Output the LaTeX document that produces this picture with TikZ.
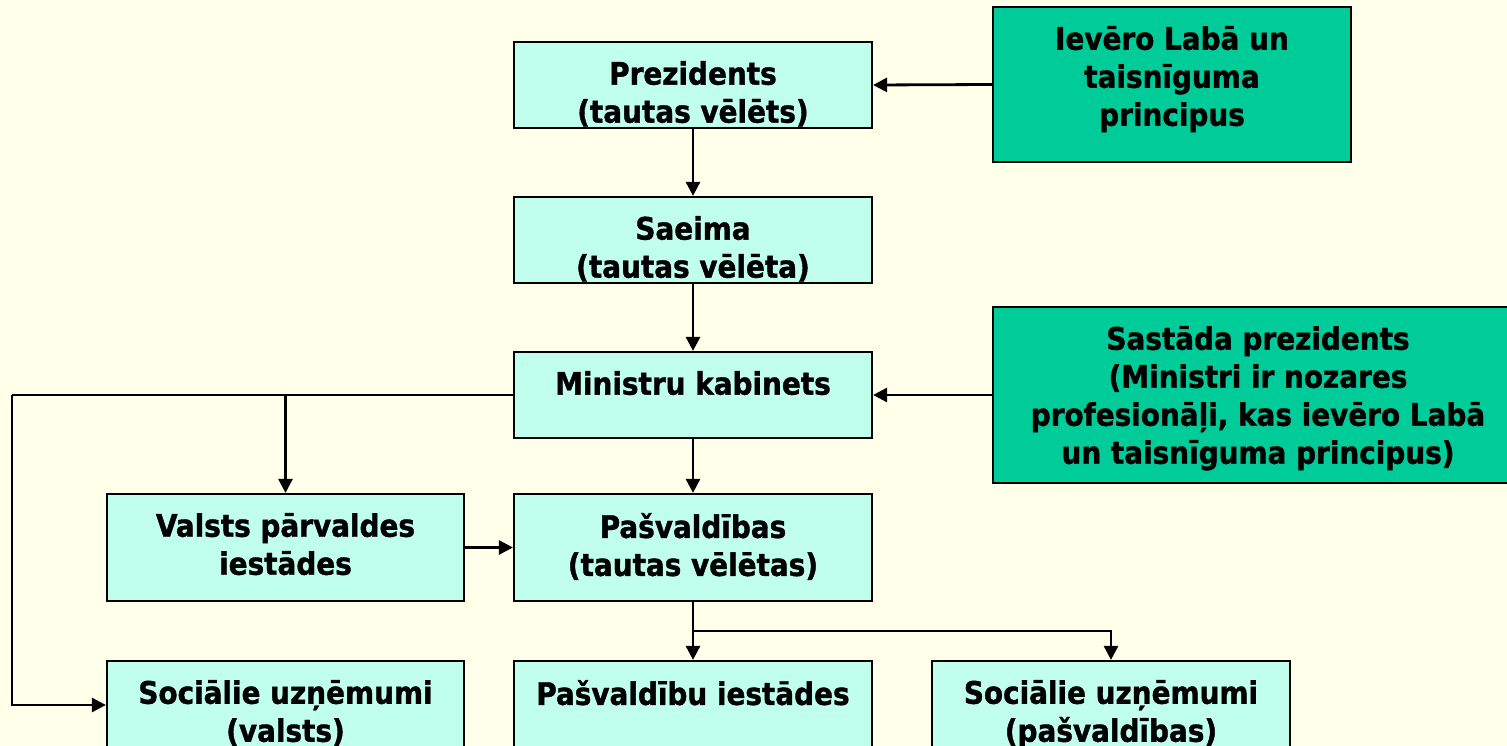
\documentclass[tikz,border=0pt]{standalone}
\usepackage{fontspec}
\newfontfamily\lblfont[FakeBold=1.2]{DejaVu Sans Condensed Bold}
\usetikzlibrary{arrows.meta}
\definecolor{bgc}{HTML}{FFFFEA}
\definecolor{cyanbox}{HTML}{C0FFEC}
\definecolor{greenbox}{HTML}{00CC99}
\tikzset{
 cbox/.style={draw=black, line width=2.2pt, fill=cyanbox, inner sep=0pt, minimum width=358pt},
 gbox/.style={draw=black, line width=2.2pt, fill=greenbox, inner sep=0pt},
 lbl/.style={anchor=north, align=center, inner sep=0pt, text=black, font=\lblfont\fontsize{31}{38}\selectfont},
 conn/.style={line width=2.8pt, -{Triangle[length=14pt,width=14pt]}},
 plainline/.style={line width=2.8pt}
}
\begin{document}
\begin{tikzpicture}[x=1pt,y=-1pt]
\useasboundingbox (0,0) rectangle (1507,746);
\fill[bgc] (0,0) rectangle (1507,746);
% boxes
\node[cbox, minimum height=86pt] (prez) at (693,85) {};
\node[cbox, minimum height=86pt] (saeima) at (693,240) {};
\node[cbox, minimum height=86pt] (mk) at (693,395) {};
\node[cbox, minimum width=357pt, minimum height=107pt] (valsts) at (285.5,547.5) {};
\node[cbox, minimum height=107pt] (pasv) at (693,547.5) {};
\node[cbox, minimum width=357pt, minimum height=88pt] (sv) at (285.5,705) {};
\node[cbox, minimum height=88pt] (pi) at (693,705) {};
\node[cbox, minimum height=88pt] (sp) at (1111,705) {};
\node[gbox, minimum width=358pt, minimum height=155pt] (g1) at (1172,84.5) {};
\node[gbox, minimum width=530pt, minimum height=176pt] (g2) at (1258,395) {};
% texts
\node[lbl] (prezT) at ([yshift=-20pt]prez.north) {Prezidents\\(tautas vēlēts)};
\node[lbl] (saeimaT) at ([yshift=-20pt]saeima.north) {Saeima\\(tautas vēlēta)};
\node[lbl] (mkT) at ([yshift=-20pt]mk.north) {Ministru kabinets};
\node[lbl] (valstsT) at ([yshift=-20pt]valsts.north) {Valsts pārvaldes\\iestādes};
\node[lbl] (pasvT) at ([yshift=-20pt]pasv.north) {Pašvaldības\\(tautas vēlētas)};
\node[lbl] (svT) at ([yshift=-20pt]sv.north) {Sociālie uzņēmumi\\(valsts)};
\node[lbl] (piT) at ([yshift=-20pt]pi.north) {Pašvaldību iestādes};
\node[lbl] (spT) at ([yshift=-20pt]sp.north) {Sociālie uzņēmumi\\(pašvaldības)};
\node[lbl] (g1T) at ([yshift=-20pt]g1.north) {Ievēro Labā un\\taisnīguma\\principus};
\node[lbl] (g2T) at ([yshift=-20pt]g2.north) {Sastāda prezidents\\(Ministri ir nozares\\profesionāļi, kas ievēro Labā\\un taisnīguma principus)};
% connectors
\draw[conn] (g1.west) -- (prez.east);
\draw[conn] (prez.south) -- (saeima.north);
\draw[conn] (saeima.south) -- (mk.north);
\draw[conn] (g2.west) -- (mk.east);
\draw[conn] (mk.south) -- (pasv.north);
\draw[conn] (valsts.east) -- (pasv.west);
\coordinate (lcorner) at (12,395);
\draw[plainline] (mk.west) -- (lcorner);
\draw[conn] (lcorner) |- (sv.west);
\draw[conn] (mk.west -| valsts.north) -- (valsts.north);
\coordinate (pj) at (693,631);
\draw[plainline] (pasv.south) -- (pj);
\draw[conn] (pj) -- (pi.north);
\draw[conn] (pj) -| (sp.north);
\end{tikzpicture}
\end{document}
